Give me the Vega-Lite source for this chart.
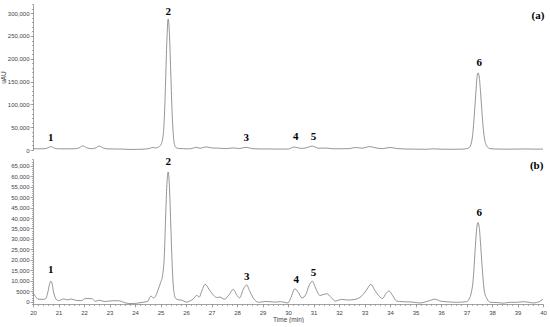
{
  "$schema": "https://vega.github.io/schema/vega-lite/v6.json",
  "padding": {"left": 0, "top": 3, "right": 7, "bottom": 0},
  "spacing": 9,
  "bounds": "flush",
  "config": {
    "view": {"stroke": null},
    "axis": {
      "grid": false,
      "labelFont": "Liberation Sans",
      "labelFontSize": 6,
      "labelColor": "#444444",
      "titleFont": "Liberation Sans",
      "titleFontSize": 6.5,
      "titleFontWeight": "normal",
      "titleColor": "#444444",
      "domainColor": "#8a8a8a",
      "tickColor": "#8a8a8a",
      "domainWidth": 0.8,
      "tickWidth": 0.7,
      "tickSize": 3,
      "labelPadding": 1,
      "labelOverlap": false,
      "labelFlush": false
    }
  },
  "datasets": {
    "a": [
      {"t": 20.0, "v": 2800}, {"t": 20.2, "v": 2600}, {"t": 20.4, "v": 2700}, {"t": 20.55, "v": 4000},
      {"t": 20.7, "v": 7500}, {"t": 20.85, "v": 4000}, {"t": 21.0, "v": 2600}, {"t": 21.3, "v": 2500},
      {"t": 21.6, "v": 2700}, {"t": 21.8, "v": 4500}, {"t": 21.95, "v": 9000}, {"t": 22.1, "v": 5000},
      {"t": 22.3, "v": 2800}, {"t": 22.45, "v": 4500}, {"t": 22.6, "v": 8500}, {"t": 22.75, "v": 4500},
      {"t": 22.9, "v": 2600}, {"t": 23.2, "v": 2200}, {"t": 23.5, "v": 2000}, {"t": 23.8, "v": 1200},
      {"t": 24.1, "v": 1400}, {"t": 24.4, "v": 2000}, {"t": 24.6, "v": 4000}, {"t": 24.7, "v": 5500},
      {"t": 24.8, "v": 4500}, {"t": 24.9, "v": 6000}, {"t": 25.0, "v": 10000}, {"t": 25.1, "v": 30000},
      {"t": 25.15, "v": 70000}, {"t": 25.2, "v": 150000}, {"t": 25.25, "v": 240000}, {"t": 25.3, "v": 287000},
      {"t": 25.35, "v": 255000}, {"t": 25.4, "v": 175000}, {"t": 25.45, "v": 90000}, {"t": 25.5, "v": 35000},
      {"t": 25.55, "v": 12000}, {"t": 25.6, "v": 5500}, {"t": 25.7, "v": 3500}, {"t": 25.9, "v": 2800},
      {"t": 26.1, "v": 2500}, {"t": 26.25, "v": 3500}, {"t": 26.4, "v": 6000}, {"t": 26.55, "v": 3800},
      {"t": 26.8, "v": 7000}, {"t": 27.0, "v": 4500}, {"t": 27.3, "v": 4000}, {"t": 27.55, "v": 3000},
      {"t": 27.85, "v": 4500}, {"t": 28.1, "v": 3200}, {"t": 28.35, "v": 6000}, {"t": 28.6, "v": 3000},
      {"t": 28.9, "v": 2200}, {"t": 29.2, "v": 2300}, {"t": 29.6, "v": 2000}, {"t": 30.0, "v": 2100},
      {"t": 30.25, "v": 6500}, {"t": 30.5, "v": 3500}, {"t": 30.7, "v": 4500}, {"t": 30.95, "v": 8500},
      {"t": 31.2, "v": 4000}, {"t": 31.5, "v": 4200}, {"t": 31.8, "v": 2600}, {"t": 32.1, "v": 2800},
      {"t": 32.4, "v": 3000}, {"t": 32.65, "v": 5500}, {"t": 32.9, "v": 4000}, {"t": 33.2, "v": 7500},
      {"t": 33.45, "v": 4500}, {"t": 33.7, "v": 3000}, {"t": 34.0, "v": 5500}, {"t": 34.3, "v": 3000},
      {"t": 34.6, "v": 2200}, {"t": 35.0, "v": 1800}, {"t": 35.4, "v": 1600}, {"t": 35.7, "v": 2500},
      {"t": 36.0, "v": 1800}, {"t": 36.5, "v": 1600}, {"t": 36.9, "v": 2000}, {"t": 37.0, "v": 3000},
      {"t": 37.1, "v": 5000}, {"t": 37.2, "v": 18000}, {"t": 37.25, "v": 38000}, {"t": 37.3, "v": 72000},
      {"t": 37.35, "v": 112000}, {"t": 37.4, "v": 152000}, {"t": 37.45, "v": 169000}, {"t": 37.5, "v": 160000},
      {"t": 37.55, "v": 128000}, {"t": 37.6, "v": 88000}, {"t": 37.65, "v": 52000}, {"t": 37.7, "v": 27000},
      {"t": 37.8, "v": 8000}, {"t": 37.9, "v": 3500}, {"t": 38.1, "v": 2200}, {"t": 38.5, "v": 1800},
      {"t": 39.0, "v": 2000}, {"t": 39.3, "v": 2300}, {"t": 39.7, "v": 1800}, {"t": 40.0, "v": 2000}
    ],
    "b": [
      {"t": 20.0, "v": 4300}, {"t": 20.1, "v": 2500}, {"t": 20.2, "v": 1200}, {"t": 20.4, "v": 1100},
      {"t": 20.5, "v": 1500}, {"t": 20.6, "v": 5500}, {"t": 20.65, "v": 8500}, {"t": 20.7, "v": 9800},
      {"t": 20.75, "v": 8500}, {"t": 20.8, "v": 5000}, {"t": 20.9, "v": 1300}, {"t": 21.0, "v": 500},
      {"t": 21.2, "v": 1300}, {"t": 21.35, "v": 900}, {"t": 21.5, "v": 1300}, {"t": 21.7, "v": 600},
      {"t": 21.9, "v": 500}, {"t": 22.05, "v": 1500}, {"t": 22.3, "v": 1500}, {"t": 22.45, "v": 200},
      {"t": 22.6, "v": 700}, {"t": 22.8, "v": 100}, {"t": 23.0, "v": 300}, {"t": 23.2, "v": 500},
      {"t": 23.4, "v": 400}, {"t": 23.55, "v": -300}, {"t": 23.8, "v": -900}, {"t": 24.1, "v": -700},
      {"t": 24.35, "v": -200}, {"t": 24.5, "v": 200}, {"t": 24.62, "v": 2700}, {"t": 24.72, "v": 1800},
      {"t": 24.8, "v": 2500}, {"t": 24.9, "v": 5500}, {"t": 25.0, "v": 9000}, {"t": 25.08, "v": 12500},
      {"t": 25.15, "v": 22000}, {"t": 25.2, "v": 40000}, {"t": 25.25, "v": 56000}, {"t": 25.3, "v": 62000},
      {"t": 25.35, "v": 55000}, {"t": 25.4, "v": 38000}, {"t": 25.45, "v": 20000}, {"t": 25.5, "v": 8000},
      {"t": 25.55, "v": 3000}, {"t": 25.6, "v": 1500}, {"t": 25.7, "v": 900}, {"t": 25.85, "v": 700},
      {"t": 26.0, "v": -200}, {"t": 26.15, "v": 300}, {"t": 26.3, "v": 1500}, {"t": 26.42, "v": 3000},
      {"t": 26.52, "v": 2200}, {"t": 26.6, "v": 4500}, {"t": 26.75, "v": 8300}, {"t": 26.9, "v": 6000},
      {"t": 27.05, "v": 3500}, {"t": 27.2, "v": 2000}, {"t": 27.33, "v": 2200}, {"t": 27.5, "v": 1200},
      {"t": 27.7, "v": 3500}, {"t": 27.85, "v": 5900}, {"t": 28.0, "v": 3000}, {"t": 28.1, "v": 1800},
      {"t": 28.25, "v": 6000}, {"t": 28.38, "v": 8000}, {"t": 28.5, "v": 5000}, {"t": 28.65, "v": 1500},
      {"t": 28.85, "v": -300}, {"t": 29.1, "v": 100}, {"t": 29.3, "v": 0}, {"t": 29.5, "v": -200},
      {"t": 29.7, "v": 0}, {"t": 29.85, "v": -300}, {"t": 30.0, "v": -600}, {"t": 30.1, "v": 1500},
      {"t": 30.27, "v": 6200}, {"t": 30.4, "v": 4500}, {"t": 30.55, "v": 1800}, {"t": 30.7, "v": 3500},
      {"t": 30.82, "v": 7500}, {"t": 30.95, "v": 9800}, {"t": 31.1, "v": 6000}, {"t": 31.25, "v": 3000},
      {"t": 31.52, "v": 3800}, {"t": 31.7, "v": 2000}, {"t": 31.85, "v": 300}, {"t": 32.1, "v": 1100},
      {"t": 32.36, "v": 800}, {"t": 32.63, "v": 1100}, {"t": 32.95, "v": 3500}, {"t": 33.1, "v": 6000},
      {"t": 33.25, "v": 8300}, {"t": 33.4, "v": 5500}, {"t": 33.55, "v": 3000}, {"t": 33.7, "v": 1500},
      {"t": 33.85, "v": 4000}, {"t": 33.96, "v": 5100}, {"t": 34.1, "v": 3000}, {"t": 34.26, "v": 300},
      {"t": 34.5, "v": 0}, {"t": 34.9, "v": -200}, {"t": 35.17, "v": -600}, {"t": 35.5, "v": 300},
      {"t": 35.76, "v": 1200}, {"t": 36.0, "v": 200}, {"t": 36.3, "v": -100}, {"t": 36.6, "v": -300},
      {"t": 37.0, "v": 0}, {"t": 37.1, "v": 1200}, {"t": 37.2, "v": 5000}, {"t": 37.25, "v": 9000},
      {"t": 37.3, "v": 17000}, {"t": 37.35, "v": 27000}, {"t": 37.4, "v": 35000}, {"t": 37.45, "v": 37800},
      {"t": 37.5, "v": 35500}, {"t": 37.55, "v": 28000}, {"t": 37.6, "v": 19000}, {"t": 37.65, "v": 11000},
      {"t": 37.7, "v": 5000}, {"t": 37.8, "v": 1500}, {"t": 37.93, "v": -300}, {"t": 38.2, "v": -400},
      {"t": 38.44, "v": -700}, {"t": 38.7, "v": -300}, {"t": 38.97, "v": -300}, {"t": 39.23, "v": 0},
      {"t": 39.45, "v": -300}, {"t": 39.62, "v": -600}, {"t": 39.85, "v": 0}, {"t": 40.0, "v": 1200}
    ],
    "labelsA": [
      {"label": "1", "t": 20.7, "v": 26900},
      {"label": "2", "t": 25.3, "v": 302800},
      {"label": "3", "t": 28.36, "v": 26300},
      {"label": "4", "t": 30.3, "v": 27400},
      {"label": "5", "t": 31.0, "v": 27400},
      {"label": "6", "t": 37.5, "v": 189900},
      {"label": "(a)", "t": 39.8, "v": 293400}
    ],
    "labelsB": [
      {"label": "1", "t": 20.7, "v": 15000},
      {"label": "2", "t": 25.3, "v": 66900},
      {"label": "3", "t": 28.38, "v": 11800},
      {"label": "4", "t": 30.32, "v": 10400},
      {"label": "5", "t": 31.0, "v": 13700},
      {"label": "6", "t": 37.5, "v": 42300},
      {"label": "(b)", "t": 39.75, "v": 64900}
    ]
  },
  "vconcat": [
    {
      "width": 510,
      "height": 146,
      "resolve": {"axis": {"y": "independent"}},
      "layer": [
        {
          "data": {"name": "a"},
          "mark": {"type": "line", "color": "#7a7a7a", "strokeWidth": 0.8, "interpolate": "monotone"},
          "encoding": {
            "x": {"field": "t", "type": "quantitative", "scale": {"domain": [20, 40], "nice": false, "zero": false}, "axis": null},
            "y": {
              "field": "v", "type": "quantitative",
              "scale": {"domain": [0, 320000], "nice": false},
              "axis": {
                "title": "uAU",
                "titlePadding": 1,
                "tickCount": 7,
                "labelExpr": "datum.value <= 300000 ? format(datum.value, ',') : ''"
              }
            }
          }
        },
        {
          "data": {"name": "labelsA"},
          "mark": {"type": "text", "font": "Liberation Serif", "fontWeight": "bold", "fontSize": 11, "color": "#000000", "baseline": "middle"},
          "encoding": {
            "x": {"field": "t", "type": "quantitative"},
            "y": {
              "field": "v", "type": "quantitative",
              "axis": {"orient": "left", "title": null, "labels": false, "domain": false, "tickSize": 1.5, "tickCount": 32}
            },
            "text": {"field": "label"}
          }
        }
      ]
    },
    {
      "width": 510,
      "height": 145,
      "resolve": {"axis": {"y": "independent", "x": "independent"}},
      "layer": [
        {
          "data": {"name": "b"},
          "mark": {"type": "line", "color": "#7a7a7a", "strokeWidth": 0.8, "interpolate": "monotone"},
          "encoding": {
            "x": {
              "field": "t", "type": "quantitative",
              "scale": {"domain": [20, 40], "nice": false, "zero": false},
              "axis": {
                "title": "Time (min)",
                "titlePadding": 1,
                "tickCount": 20,
                "labelExpr": "format(datum.value, 'd')",
                "labelPadding": 2
              }
            },
            "y": {
              "field": "v", "type": "quantitative",
              "scale": {"domain": [-1100, 68200], "nice": false, "zero": false},
              "axis": {
                "title": null,
                "tickCount": 14,
                "labelExpr": "datum.value === 5000 ? '5000' : format(datum.value, ',')"
              }
            }
          }
        },
        {
          "data": {"name": "labelsB"},
          "mark": {"type": "text", "font": "Liberation Serif", "fontWeight": "bold", "fontSize": 11, "color": "#000000", "baseline": "middle"},
          "encoding": {
            "x": {
              "field": "t", "type": "quantitative",
              "axis": {"orient": "bottom", "title": null, "labels": false, "domain": false, "tickSize": 1.5, "tickCount": 100}
            },
            "y": {
              "field": "v", "type": "quantitative",
              "axis": {"orient": "left", "title": null, "labels": false, "domain": false, "tickSize": 1.5, "tickCount": 69}
            },
            "text": {"field": "label"}
          }
        }
      ]
    }
  ]
}
